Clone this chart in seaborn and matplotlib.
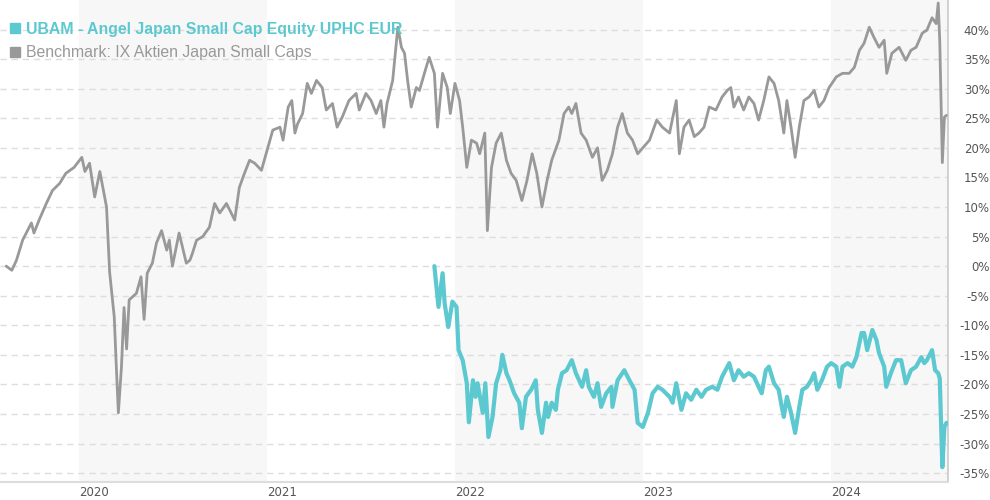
import pandas as pd
import matplotlib
matplotlib.use("Agg")
import matplotlib.pyplot as plt
from matplotlib.lines import Line2D
import seaborn as sns

# Benchmark (IX Aktien Japan Small Caps), cumulative performance in %
bench_dates = [
    "2019-08-13", "2019-08-24", "2019-09-02", "2019-09-14", "2019-10-01", "2019-10-06", "2019-10-16", "2019-10-30",
    "2019-11-11", "2019-11-25", "2019-12-07", "2019-12-23", "2020-01-07", "2020-01-13", "2020-01-22", "2020-02-01",
    "2020-02-11", "2020-02-24", "2020-03-01", "2020-03-10", "2020-03-14", "2020-03-18", "2020-03-24", "2020-03-29",
    "2020-04-03", "2020-04-08", "2020-04-22", "2020-05-01", "2020-05-07", "2020-05-13", "2020-05-23", "2020-05-31",
    "2020-06-10", "2020-06-20", "2020-06-25", "2020-07-01", "2020-07-14", "2020-07-28", "2020-08-04", "2020-08-09",
    "2020-08-17", "2020-08-29", "2020-09-11", "2020-09-21", "2020-10-01", "2020-10-14", "2020-10-30", "2020-11-08",
    "2020-11-18", "2020-11-28", "2020-12-08", "2020-12-21", "2021-01-01", "2021-01-12", "2021-01-26", "2021-02-01",
    "2021-02-11", "2021-02-18", "2021-02-24", "2021-03-01", "2021-03-11", "2021-03-20", "2021-03-28", "2021-04-07",
    "2021-04-18", "2021-04-26", "2021-05-08", "2021-05-17", "2021-05-27", "2021-06-09", "2021-06-23", "2021-06-29",
    "2021-07-12", "2021-07-22", "2021-08-01", "2021-08-10", "2021-08-16", "2021-08-22", "2021-09-02", "2021-09-12",
    "2021-09-19", "2021-09-25", "2021-10-01", "2021-10-08", "2021-10-18", "2021-10-24", "2021-11-06", "2021-11-12",
    "2021-11-22", "2021-11-28", "2021-12-08", "2021-12-17", "2021-12-23", "2022-01-01", "2022-01-10", "2022-01-16",
    "2022-01-24", "2022-02-02", "2022-02-12", "2022-02-18", "2022-02-28", "2022-03-05", "2022-03-13", "2022-03-22",
    "2022-04-01", "2022-04-11", "2022-04-20", "2022-04-30", "2022-05-11", "2022-05-21", "2022-05-31", "2022-06-09",
    "2022-06-19", "2022-06-29", "2022-07-08", "2022-07-22", "2022-08-01", "2022-08-10", "2022-08-16", "2022-08-24",
    "2022-09-03", "2022-09-13", "2022-09-25", "2022-10-05", "2022-10-14", "2022-10-24", "2022-11-03", "2022-11-13",
    "2022-11-22", "2022-12-02", "2022-12-12", "2022-12-22", "2023-01-01", "2023-01-14", "2023-01-28", "2023-02-08",
    "2023-02-22", "2023-03-07", "2023-03-13", "2023-03-22", "2023-04-01", "2023-04-11", "2023-04-20", "2023-04-30",
    "2023-05-10", "2023-05-23", "2023-06-04", "2023-06-14", "2023-06-21", "2023-06-27", "2023-07-06", "2023-07-16",
    "2023-07-26", "2023-08-05", "2023-08-14", "2023-08-24", "2023-09-03", "2023-09-13", "2023-09-22", "2023-10-02",
    "2023-10-08", "2023-10-16", "2023-10-24", "2023-11-01", "2023-11-10", "2023-11-20", "2023-11-30", "2023-12-09",
    "2023-12-19", "2023-12-29", "2024-01-12", "2024-01-24", "2024-02-06", "2024-02-16", "2024-02-26", "2024-03-06",
    "2024-03-16", "2024-03-25", "2024-04-04", "2024-04-14", "2024-04-19", "2024-04-29", "2024-05-13", "2024-05-26",
    "2024-06-05", "2024-06-15", "2024-06-27", "2024-07-06", "2024-07-16", "2024-07-24", "2024-07-28", "2024-07-31",
    "2024-08-05", "2024-08-09", "2024-08-13",
]
bench_values = [
    0.0, -0.7, 1.0, 4.4, 7.3, 5.6, 7.8, 10.6,
    12.8, 14.0, 15.7, 16.7, 18.4, 16.0, 17.4, 11.7,
    16.0, 10.0, -1.0, -8.6, -17.0, -24.8, -17.0, -7.0,
    -14.0, -5.7, -4.6, -1.8, -9.0, -1.2, 0.5, 3.9,
    6.0, 2.7, 4.4, 0.0, 5.6, 0.5, 1.0, 2.2,
    4.4, 5.0, 6.6, 10.6, 9.0, 10.6, 7.8, 13.3,
    15.7, 17.9, 17.4, 16.2, 19.6, 23.0, 23.5, 21.3,
    26.9, 28.0, 22.5, 24.0, 25.8, 30.9, 29.2, 31.4,
    30.2, 26.4, 27.5, 23.5, 25.2, 28.0, 29.2, 26.4,
    29.2, 28.0, 25.8, 28.0, 23.5, 27.5, 31.4, 40.4,
    37.0, 36.0, 31.4, 26.9, 30.2, 29.7, 33.6, 35.3,
    32.6, 23.5, 32.6, 30.2, 25.8, 30.9, 28.0, 23.5,
    16.7, 21.3, 20.8, 19.0, 22.5, 6.0, 16.7, 20.8,
    22.5, 17.9, 15.7, 14.5, 11.1, 14.5, 19.0, 15.7,
    10.0, 14.5, 17.9, 21.3, 25.8, 26.9, 25.8, 27.5,
    22.5, 21.3, 18.4, 20.0, 14.5, 16.2, 19.0, 23.5,
    25.8, 22.5, 21.3, 19.0, 20.0, 21.3, 24.7, 23.5,
    22.5, 28.0, 19.0, 23.5, 24.7, 21.9, 22.5, 23.5,
    26.9, 26.4, 28.6, 29.7, 30.2, 26.9, 28.6, 26.4,
    28.6, 27.5, 24.7, 28.0, 32.0, 30.9, 28.0, 22.5,
    28.0, 23.5, 18.4, 23.5, 28.0, 28.6, 29.7, 26.9,
    28.0, 30.2, 32.0, 32.6, 32.6, 33.6, 36.5, 37.7,
    40.4, 38.7, 37.0, 38.2, 32.6, 36.0, 37.0, 34.8,
    36.5, 37.0, 39.4, 39.9, 42.0, 41.0, 44.5, 38.0,
    17.5, 25.2, 25.5,
]

# Fund (UBAM - Angel Japan Small Cap Equity UPHC EUR), cumulative performance in %
fund_dates = [
    "2021-11-22", "2021-11-30", "2021-12-08", "2021-12-12", "2021-12-19", "2021-12-27", "2022-01-04", "2022-01-08",
    "2022-01-16", "2022-01-24", "2022-01-28", "2022-02-05", "2022-02-10", "2022-02-14", "2022-02-24", "2022-03-01",
    "2022-03-07", "2022-03-15", "2022-03-22", "2022-03-30", "2022-04-03", "2022-04-11", "2022-04-17", "2022-04-26",
    "2022-05-06", "2022-05-11", "2022-05-19", "2022-05-29", "2022-06-07", "2022-06-11", "2022-06-19", "2022-06-27",
    "2022-07-01", "2022-07-08", "2022-07-16", "2022-07-20", "2022-07-28", "2022-08-06", "2022-08-16", "2022-08-24",
    "2022-09-05", "2022-09-13", "2022-09-18", "2022-09-28", "2022-10-05", "2022-10-12", "2022-10-22", "2022-11-01",
    "2022-11-03", "2022-11-13", "2022-11-26", "2022-12-06", "2022-12-16", "2022-12-22", "2023-01-01", "2023-01-11",
    "2023-01-20", "2023-01-30", "2023-02-08", "2023-02-22", "2023-02-28", "2023-03-07", "2023-03-17", "2023-03-26",
    "2023-04-05", "2023-04-15", "2023-04-25", "2023-05-04", "2023-05-16", "2023-05-26", "2023-06-04", "2023-06-18",
    "2023-06-27", "2023-07-06", "2023-07-16", "2023-07-26", "2023-08-05", "2023-08-14", "2023-08-20", "2023-08-28",
    "2023-09-03", "2023-09-13", "2023-09-22", "2023-09-28", "2023-10-02", "2023-10-08", "2023-10-16", "2023-10-24",
    "2023-11-01", "2023-11-07", "2023-11-16", "2023-11-24", "2023-11-30", "2023-12-06", "2023-12-15", "2023-12-25",
    "2024-01-02", "2024-01-12", "2024-01-18", "2024-01-24", "2024-02-03", "2024-02-12", "2024-02-20", "2024-03-01",
    "2024-03-06", "2024-03-12", "2024-03-22", "2024-03-30", "2024-04-04", "2024-04-14", "2024-04-18", "2024-04-27",
    "2024-05-07", "2024-05-17", "2024-05-26", "2024-06-05", "2024-06-15", "2024-06-25", "2024-07-01", "2024-07-06",
    "2024-07-16", "2024-07-22", "2024-07-28", "2024-07-31", "2024-08-05", "2024-08-09", "2024-08-13",
]
fund_values = [
    0.0, -6.9, -1.2, -6.3, -10.3, -6.0, -6.9, -14.2,
    -15.9, -19.8, -26.4, -19.3, -22.1, -19.8, -24.8, -19.8,
    -28.9, -25.5, -19.8, -17.6, -15.0, -18.1, -19.3, -21.5,
    -23.1, -27.4, -22.1, -20.9, -19.3, -24.3, -28.2, -23.1,
    -25.5, -23.1, -24.3, -20.9, -18.1, -17.6, -15.9, -18.1,
    -20.4, -17.6, -20.4, -22.1, -19.8, -23.8, -21.5, -20.4,
    -23.8, -19.3, -17.6, -19.3, -20.9, -26.5, -27.2, -24.8,
    -21.5, -20.4, -20.9, -22.1, -23.1, -19.8, -24.3, -21.5,
    -22.6, -20.9, -22.1, -20.9, -20.4, -20.9, -18.7, -16.4,
    -19.3, -17.6, -18.7, -18.1, -18.7, -20.4, -21.5, -17.6,
    -17.0, -19.8, -20.9, -23.8, -25.5, -22.1, -24.8, -28.2,
    -23.8, -20.9, -20.4, -19.3, -18.1, -20.9, -19.3, -17.0,
    -16.4, -17.0, -20.4, -17.0, -16.4, -17.0, -15.4, -11.3,
    -11.3, -14.2, -10.8, -12.5, -14.7, -17.0, -20.4, -18.1,
    -15.9, -15.9, -19.8, -17.6, -17.0, -15.4, -16.4, -15.9,
    -14.2, -17.6, -18.1, -19.0, -34.0, -27.2, -26.5,
]

fund_label = "UBAM - Angel Japan Small Cap Equity UPHC EUR"
bench_label = "Benchmark: IX Aktien Japan Small Caps"
year_ticks = ["2020-01-01", "2021-01-01", "2022-01-01", "2023-01-01", "2024-01-01"]
year_labels = ["2020", "2021", "2022", "2023", "2024"]
shaded_years = [("2020-01-01", "2021-01-01"), ("2022-01-01", "2023-01-01"), ("2024-01-01", "2024-08-20")]
y_ticks = list(range(-35, 45, 5))

teal = "#5cc8cf"
gray = "#999999"

bench = pd.DataFrame({"date": pd.to_datetime(bench_dates), "value": bench_values})
fund = pd.DataFrame({"date": pd.to_datetime(fund_dates), "value": fund_values})

sns.set_theme(style="white")
plt.rcParams["font.family"] = ["DejaVu Sans"]

fig = plt.figure(figsize=(9.9, 5.0), dpi=100)
ax = fig.add_axes([0.0, 0.036, 948 / 990, 0.964])

# alternating year bands
for start, end in shaded_years:
    ax.axvspan(pd.Timestamp(start), pd.Timestamp(end), color="#f7f7f7", lw=0, zorder=0)

sns.lineplot(data=bench, x="date", y="value", ax=ax, color=gray, lw=2.0, zorder=3)
sns.lineplot(data=fund, x="date", y="value", ax=ax, color=teal, lw=3.0, zorder=4)

ax.set_xlim(pd.Timestamp("2019-08-01"), pd.Timestamp("2024-08-16"))
ax.set_ylim(-36.5, 45)
ax.set_xlabel("")
ax.set_ylabel("")

ax.yaxis.tick_right()
ax.set_yticks(y_ticks)
ax.set_yticklabels([f"{t}%" for t in y_ticks])
ax.tick_params(axis="y", length=0, pad=30, labelsize=8.5, labelcolor="#555555")
for lbl in ax.get_yticklabels():
    lbl.set_horizontalalignment("right")

ax.set_xticks(pd.to_datetime(year_ticks))
ax.set_xticklabels(year_labels)
ax.tick_params(axis="x", length=0, pad=3, labelsize=8.5, labelcolor="#555555")
for lbl in ax.get_xticklabels():
    lbl.set_horizontalalignment("left")

ax.yaxis.grid(True, color="#dddddd", linestyle=(0, (4.5, 3.5)), lw=1)
ax.xaxis.grid(False)
ax.set_axisbelow(True)

for side in ["top", "left"]:
    ax.spines[side].set_visible(False)
ax.spines["right"].set_color("#cccccc")
ax.spines["bottom"].set_color("#dddddd")
ax.spines["bottom"].set_linewidth(1.5)

handles = [
    Line2D([], [], marker="s", linestyle="none", markersize=7, color=teal),
    Line2D([], [], marker="s", linestyle="none", markersize=7, color=gray),
]
leg = ax.legend(handles, [fund_label, bench_label], loc="upper left", bbox_to_anchor=(0.004, 0.968),
                frameon=False, handlelength=0.6, handletextpad=0.42, labelspacing=0.55, borderaxespad=0,
                prop={"family": ["Liberation Sans", "DejaVu Sans"], "size": 11.4})
leg.get_texts()[0].set_color(teal)
leg.get_texts()[0].set_fontweight("bold")
leg.get_texts()[1].set_color(gray)

fig.savefig("out.png", dpi=100)
